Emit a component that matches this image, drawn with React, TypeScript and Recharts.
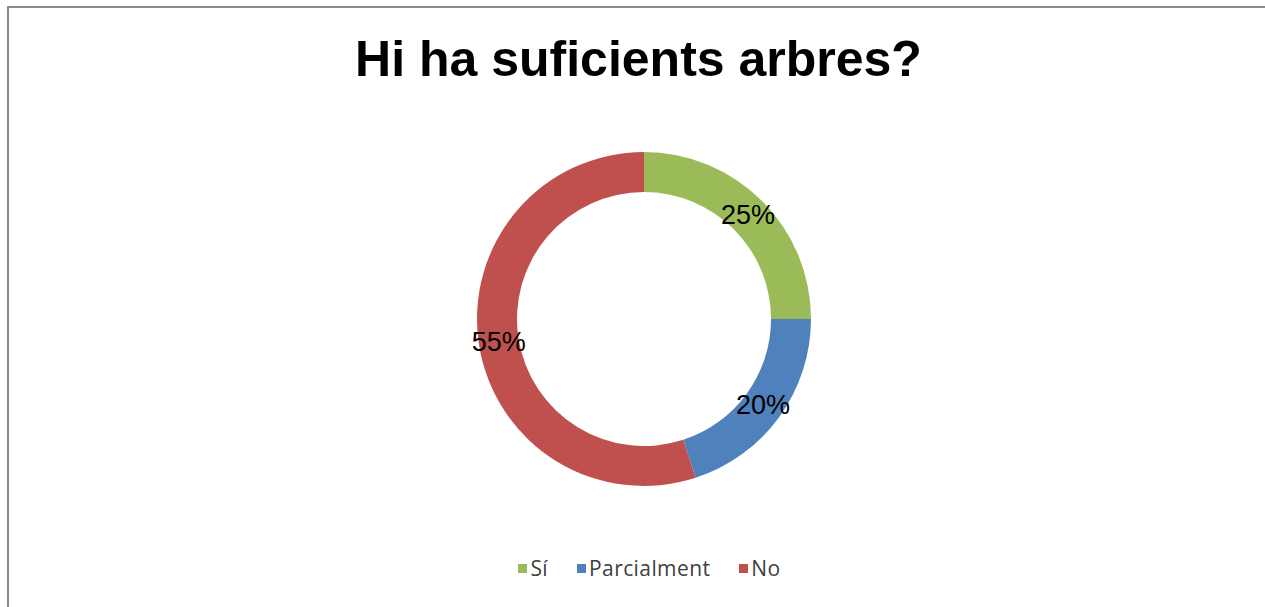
import { PieChart, Pie, Cell, Legend } from "recharts";

const TITLE = "Hi ha suficients arbres?";
const CATEGORIES = ["Sí", "Parcialment", "No"];
const VALUES = [25, 20, 55];
const COLORS = ["#9BBB59", "#4F81BD", "#C0504D"];

const data = CATEGORIES.map((name, i) => ({ name, value: VALUES[i] }));

const RADIAN = Math.PI / 180;

// percent labels sit in the middle of the ring
const renderLabel = (props: any) => {
  const { cx, cy, midAngle, innerRadius, outerRadius, percent } = props;
  const r = (innerRadius + outerRadius) / 2;
  const x = cx + r * Math.cos(-midAngle * RADIAN);
  const y = cy + r * Math.sin(-midAngle * RADIAN);
  return (
    <text
      x={x}
      y={y}
      fill="#000"
      textAnchor="middle"
      dominantBaseline="central"
      fontFamily="'Liberation Sans', Arial, sans-serif"
      fontSize={27}
    >
      {`${(percent * 100).toFixed(0)}%`}
    </text>
  );
};

// legend in data order (Sí, Parcialment, No)
const renderLegend = () => (
  <div
    style={{
      display: "flex",
      justifyContent: "center",
      alignItems: "center",
      fontFamily: "'Open Sans', sans-serif",
      fontSize: 21,
      letterSpacing: 0.4,
      color: "#404040",
      height: 28,
    }}
  >
    {CATEGORIES.map((label, i) => (
      <div
        key={`leg-${i}`}
        style={{
          display: "flex",
          alignItems: "center",
          marginLeft: i === 0 ? 0 : 29,
        }}
      >
        <span
          style={{
            display: "inline-block",
            width: 9,
            height: 9,
            background: COLORS[i],
            marginRight: 3,
          }}
        />
        <span>{label}</span>
      </div>
    ))}
  </div>
);

export default function App() {
  return (
    <div
      style={{
        position: "absolute",
        left: 0,
        top: 0,
        width: 1265,
        height: 607,
        overflow: "hidden",
        background: "#fff",
      }}
    >
      <div
        style={{
          position: "absolute",
          left: 7,
          top: 6,
          width: 1300,
          height: 700,
          borderLeft: "2px solid #8a8a8a",
          borderTop: "2px solid #8a8a8a",
        }}
      />
      <div
        style={{
          position: "absolute",
          left: 6,
          top: 34,
          width: 1265,
          textAlign: "center",
          fontFamily: "'Liberation Sans', Arial, sans-serif",
          fontWeight: "bold",
          fontSize: 50,
          lineHeight: "50px",
          color: "#000",
        }}
      >
        {TITLE}
      </div>
      <div style={{ position: "absolute", left: 0, top: 0 }}>
        <PieChart width={1265} height={607}>
          <Pie
            data={data}
            dataKey="value"
            nameKey="name"
            cx={639}
            cy={314}
            innerRadius={127}
            outerRadius={167}
            startAngle={90}
            endAngle={-270}
            stroke="none"
            labelLine={false}
            label={renderLabel}
            isAnimationActive={false}
          >
            {data.map((entry, index) => (
              <Cell key={`cell-${index}`} fill={COLORS[index % COLORS.length]} />
            ))}
          </Pie>
          <Legend
            content={renderLegend}
            wrapperStyle={{ left: 17, top: 554, width: 1265 }}
          />
        </PieChart>
      </div>
    </div>
  );
}
